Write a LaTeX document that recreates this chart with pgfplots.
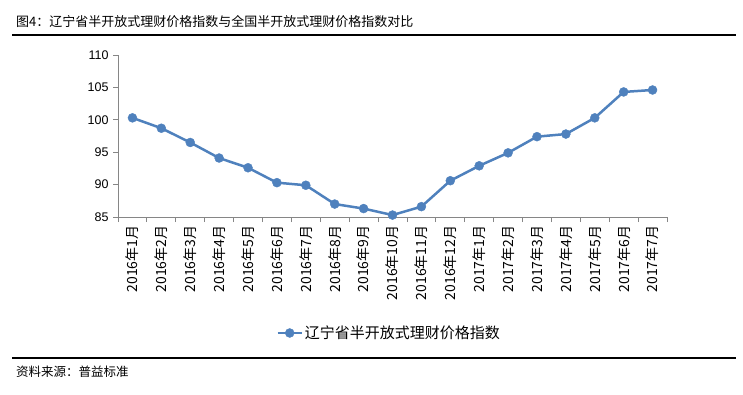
\documentclass[border=0pt]{standalone}
\usepackage{pgfplots}
\pgfplotsset{compat=1.18}
\usepackage{fontspec}
\setmainfont{Liberation Sans}
\newfontfamily\cjk{Noto Sans CJK SC}
\definecolor{lineblue}{RGB}{79,129,189}
\definecolor{axisgray}{RGB}{134,134,134}
\begin{document}
\begin{tikzpicture}
\useasboundingbox (0pt,0pt) rectangle (743pt,-395pt);
\node[anchor=west, inner sep=0pt, font=\cjk\fontsize{13}{15}\selectfont] at (16pt,-22pt) {图4：辽宁省半开放式理财价格指数与全国半开放式理财价格指数对比};
\draw[black, line width=1.2pt] (12pt,-35pt) -- (736pt,-35pt);
\begin{axis}[
  at={(118pt,-217pt)}, anchor=south west,
  scale only axis, width=549pt, height=162pt,
  xmin=-0.5, xmax=18.5, ymin=85, ymax=110,
  axis x line*=bottom, axis y line*=left,
  axis line style={draw=axisgray, line width=0.8pt},
  tick align=outside,
  major tick length=5pt, minor tick length=5pt,
  ytick={85,90,...,110},
  xtick={0,...,18},
  minor xtick={-0.5,0.5,...,18.5},
  xtick style={draw=none},
  minor x tick style={draw=axisgray, line width=0.8pt},
  ytick style={draw=axisgray, line width=0.8pt},
  /pgf/number format/assume math mode=true,
  yticklabel style={font=\fontsize{12.5}{14}\selectfont, xshift=-1pt},
  xticklabel style={rotate=90, anchor=east, font=\cjk\fontsize{14}{15}\selectfont, yshift=0pt},
  xticklabels={2016年1月,2016年2月,2016年3月,2016年4月,2016年5月,2016年6月,2016年7月,2016年8月,2016年9月,2016年10月,2016年11月,2016年12月,2017年1月,2017年2月,2017年3月,2017年4月,2017年5月,2017年6月,2017年7月},
  legend style={at={(0.494,-0.716)}, anchor=center, draw=none, fill=none, font=\cjk\fontsize{15}{17}\selectfont},
  legend image code/.code={\draw[#1, mark repeat=2, mark phase=2] plot coordinates {(0pt,0pt) (12pt,0pt) (24pt,0pt)};},
]
\addplot[color=lineblue, line width=2.5pt, mark=*, mark size=4.5pt, mark options={solid, fill=lineblue, draw=lineblue, line width=0.4pt}] coordinates {
(0,100.3) (1,98.7) (2,96.5) (3,94.1) (4,92.6) (5,90.3) (6,89.9) (7,87.0) (8,86.3) (9,85.3)
(10,86.6) (11,90.6) (12,92.9) (13,94.9) (14,97.4) (15,97.8) (16,100.3) (17,104.3) (18,104.6)
};
\addlegendentry{辽宁省半开放式理财价格指数}
\end{axis}
\draw[black, line width=1.2pt] (12pt,-358pt) -- (736pt,-358pt);
\node[anchor=west, inner sep=0pt, font=\cjk\fontsize{12.5}{14}\selectfont] at (16pt,-372pt) {资料来源：普益标准};
\end{tikzpicture}
\end{document}
